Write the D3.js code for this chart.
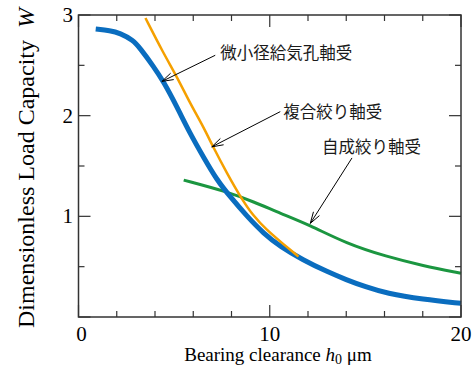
<!DOCTYPE html>
<html lang="ja">
<head>
<meta charset="UTF-8">
<title>Dimensionless Load Capacity</title>
<script src="https://cdn.jsdelivr.net/npm/d3@7"></script>
<style>
  body { margin: 0; background: #fff; }
</style>
</head>
<body>
<div id="container"></div>
<script>
// clearance h0 (um) vs dimensionless load W
let smallHoleH = [0.9, 1.65, 2.17, 2.85, 3.22, 3.92, 4.44, 5.14, 5.84, 6.53, 7.24, 7.93, 8.81, 9.68, 10.55, 11.74, 13, 14, 15, 16.1, 18, 20];
let smallHoleW = [2.86, 2.845, 2.82, 2.75, 2.67, 2.49, 2.34, 2.09, 1.82, 1.59, 1.36, 1.195, 1.0, 0.83, 0.7, 0.566, 0.45, 0.37, 0.3, 0.235, 0.175, 0.136];

let compoundH = [3.5, 4.44, 5.14, 5.84, 6.53, 7.06, 7.76, 8.46, 9.15, 9.85, 10.55, 11.5];
let compoundW = [2.97, 2.62, 2.39, 2.12, 1.89, 1.68, 1.43, 1.195, 1.0, 0.864, 0.75, 0.6];

let inherentH = [5.5, 7.76, 9.15, 10.55, 12.08, 14, 16.1, 18, 20];
let inherentW = [1.36, 1.245, 1.145, 1.03, 0.914, 0.73, 0.6, 0.51, 0.434];

let xTicks = [0, 2, 4, 6, 8, 10, 12, 14, 16, 18, 20];
let xLabels = [0, 10, 20];
let yTicks = [0, 0.5, 1, 1.5, 2, 2.5, 3];
let yLabels = [1, 2, 3];

// annotation: label, text anchor point, arrow tail, arrow head (data units)
let notes = [
  {text: '微小径給気孔軸受', tx: 7.41, ty: 2.62, x1: 7.15, y1: 2.60, x2: 4.36, y2: 2.34},
  {text: '複合絞り軸受', tx: 10.7, ty: 2.04, x1: 10.55, y1: 2.04, x2: 6.97, y2: 1.69},
  {text: '自成絞り軸受', tx: 12.73, ty: 1.69, x1: 14.3, y1: 1.58, x2: 12.12, y2: 0.93}
];

let width = 476, height = 371;
let svg = d3.select('#container').append('svg')
    .attr('width', width)
    .attr('height', height);

let x = d3.scaleLinear().domain([0, 20]).range([78.5, 461]);
let y = d3.scaleLinear().domain([0, 3]).range([317, 15]);

let serif = '"Liberation Serif", "Times New Roman", serif';
let sans = '"Noto Sans CJK JP", "Noto Sans", sans-serif';

// curves
let line = d3.line()
    .x(d => x(d[0]))
    .y(d => y(d[1]))
    .curve(d3.curveBasis);

let series = [
  {h: inherentH, w: inherentW, color: '#1b9640', sw: 3},
  {h: smallHoleH, w: smallHoleW, color: '#0a6dbf', sw: 5},
  {h: compoundH, w: compoundW, color: '#f5a000', sw: 2.5}
];

series.forEach(s => {
  svg.append('path')
    .datum(d3.zip(s.h, s.w))
    .attr('d', line)
    .attr('fill', 'none')
    .attr('stroke', s.color)
    .attr('stroke-width', s.sw)
    .attr('stroke-linecap', 'butt');
});

// frame
svg.append('rect')
    .attr('x', x(0)).attr('y', y(3))
    .attr('width', x(20) - x(0)).attr('height', y(0) - y(3))
    .attr('fill', 'none')
    .attr('stroke', '#333')
    .attr('stroke-width', 1.5);

// ticks pointing inward on all four sides
let tickCol = '#333';
xTicks.forEach(t => {
  let len = (t % 10 === 0) ? 12 : 6;
  svg.append('line').attr('x1', x(t)).attr('x2', x(t))
    .attr('y1', y(0)).attr('y2', y(0) - len)
    .attr('stroke', tickCol).attr('stroke-width', 1.2);
  svg.append('line').attr('x1', x(t)).attr('x2', x(t))
    .attr('y1', y(3)).attr('y2', y(3) + len)
    .attr('stroke', tickCol).attr('stroke-width', 1.2);
});
yTicks.forEach(t => {
  let len = (t % 1 === 0) ? 12 : 6;
  svg.append('line').attr('x1', x(0)).attr('x2', x(0) + len)
    .attr('y1', y(t)).attr('y2', y(t))
    .attr('stroke', tickCol).attr('stroke-width', 1.2);
  svg.append('line').attr('x1', x(20)).attr('x2', x(20) - len)
    .attr('y1', y(t)).attr('y2', y(t))
    .attr('stroke', tickCol).attr('stroke-width', 1.2);
});

// tick labels
svg.selectAll('text.xl').data(xLabels).enter().append('text')
    .attr('class', 'xl')
    .attr('x', d => x(d) + (d === 0 ? 3 : 0))
    .attr('y', 341)
    .attr('text-anchor', 'middle')
    .attr('font-family', serif)
    .attr('font-size', 21)
    .text(d => d);

svg.selectAll('text.yl').data(yLabels).enter().append('text')
    .attr('class', 'yl')
    .attr('x', 73)
    .attr('y', d => y(d) + 7)
    .attr('text-anchor', 'end')
    .attr('font-family', serif)
    .attr('font-size', 21)
    .text(d => d);

// axis titles
let xt = svg.append('text')
    .attr('x', 278).attr('y', 361)
    .attr('text-anchor', 'middle')
    .attr('font-family', serif)
    .attr('font-size', 19);
xt.append('tspan').text('Bearing clearance ');
xt.append('tspan').attr('font-style', 'italic').text('h');
xt.append('tspan').attr('font-size', 14).attr('dy', 3).text('0');
xt.append('tspan').attr('dy', -3).text(' μm');

let yt = svg.append('text')
    .attr('transform', 'translate(34,168) rotate(-90)')
    .attr('text-anchor', 'middle')
    .attr('font-family', serif)
    .attr('font-size', 24);
yt.append('tspan').text('Dimensionless Load Capacity\u2002');
yt.append('tspan').attr('font-style', 'italic').text('W');

// annotations with open arrowheads
notes.forEach(n => {
  let x1 = x(n.x1), y1 = y(n.y1), x2 = x(n.x2), y2 = y(n.y2);
  svg.append('line')
    .attr('x1', x1).attr('y1', y1).attr('x2', x2).attr('y2', y2)
    .attr('stroke', '#000').attr('stroke-width', 1);
  let ang = Math.atan2(y1 - y2, x1 - x2);
  let len = 12, spread = 0.3;
  let pts = [
    [x2 + len * Math.cos(ang + spread), y2 + len * Math.sin(ang + spread)],
    [x2, y2],
    [x2 + len * Math.cos(ang - spread), y2 + len * Math.sin(ang - spread)]
  ];
  svg.append('path')
    .attr('d', d3.line()(pts))
    .attr('fill', 'none')
    .attr('stroke', '#000').attr('stroke-width', 1);
  svg.append('text')
    .attr('x', x(n.tx)).attr('y', y(n.ty) + 6)
    .attr('font-family', sans)
    .attr('font-size', 16.5)
    .attr('fill', '#1a1a1a')
    .text(n.text);
});
</script>
</body>
</html>
